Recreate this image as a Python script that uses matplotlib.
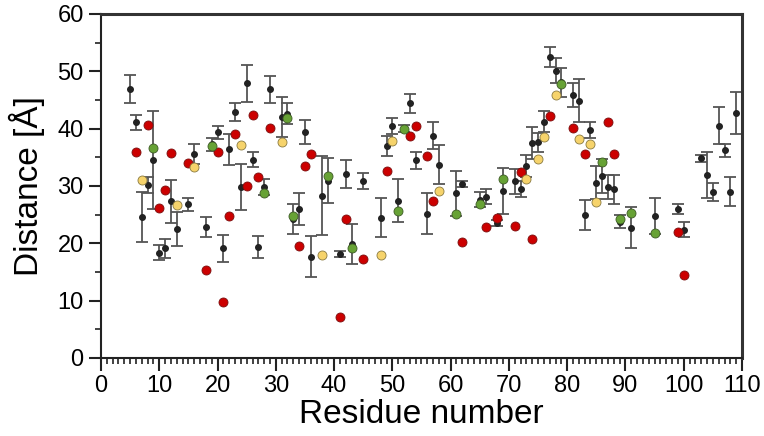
import matplotlib.pyplot as plt
from matplotlib.ticker import MultipleLocator

plt.rcParams["font.family"] = ["Liberation Sans", "DejaVu Sans"]

# black points with error bars
res_black = [5, 6, 7, 8, 9, 10, 11, 12, 13, 15, 16, 18, 19, 20, 21, 22, 23, 24, 25, 26,
             27, 28, 29, 31, 32, 33, 34, 35, 36, 38, 39, 41, 42, 43, 45, 48, 49, 50, 51, 52,
             53, 54, 56, 57, 58, 61, 62, 65, 66, 68, 69, 71, 72, 73, 74, 75, 76, 77, 78, 79,
             81, 82, 83, 84, 85, 86, 87, 88, 89, 91, 95, 99, 100, 103, 104, 105, 106, 107, 108, 109]
dist_black = [46.9, 41.1, 24.6, 30.2, 34.5, 18.4, 19.1, 27.3, 22.5, 26.8, 35.6, 22.9, 37.25, 39.4, 19.1, 36.4, 42.9, 29.8, 47.9, 34.6,
              19.4, 29.8, 46.9, 42.0, 42.6, 24.2, 26.0, 39.4, 17.7, 28.3, 30.9, 18.1, 32.1, 19.9, 30.8, 24.5, 36.9, 40.5, 27.4, 40.1,
              44.4, 34.5, 25.2, 38.8, 33.7, 28.7, 30.3, 27.6, 28.1, 23.5, 29.2, 30.8, 29.5, 33.5, 37.5, 37.6, 41.2, 52.5, 50.1, 48.1,
              45.9, 44.9, 24.9, 39.7, 30.6, 31.7, 29.8, 29.4, 23.8, 22.7, 24.8, 26.0, 22.4, 34.8, 31.9, 29.0, 40.5, 36.2, 29.0, 42.7]
err_black = [2.5, 1.3, 4.4, 1.45, 8.5, 1.25, 1.6, 3.7, 2.9, 1.15, 1.8, 1.75, 1.15, 1.15, 2.3, 2.7, 1.5, 4.0, 3.25, 1.25,
             1.9, 1.4, 2.35, 3.5, 1.85, 2.65, 2.8, 2.1, 3.65, 6.9, 3.9, 0.5, 2.4, 3.55, 1.4, 3.45, 1.75, 1.4, 3.75, 0.6,
             1.6, 1.45, 3.65, 2.3, 3.4, 4.0, 0.5, 1.3, 1.3, 0.5, 4.0, 2.15, 1.4, 1.85, 2.75, 1.6, 1.8, 1.8, 2.2, 2.5,
             2.1, 3.75, 2.6, 1.4, 2.85, 2.95, 2.05, 2.5, 1.15, 3.55, 3.1, 0.9, 1.25, 0.55, 4.05, 1.55, 3.2, 1.2, 2.5, 3.65]

res_red = [6, 8, 10, 11, 12, 15, 18, 20, 21, 22, 23, 25, 26, 27, 29, 34, 35, 36, 41, 42,
           45, 49, 53, 54, 56, 57, 62, 66, 68, 71, 72, 74, 77, 81, 83, 87, 88, 99, 100]
dist_red = [36.0, 40.6, 26.2, 29.3, 35.7, 34.0, 15.3, 35.9, 9.7, 24.7, 39.1, 30.0, 42.4, 31.5, 40.1, 19.6, 33.5, 35.6, 7.2, 24.3,
            17.3, 32.6, 38.7, 40.5, 35.3, 27.3, 20.3, 22.8, 24.4, 23.0, 32.4, 20.8, 42.2, 40.2, 35.5, 41.1, 35.6, 22.0, 14.4]

res_yellow = [7, 13, 16, 24, 31, 38, 48, 50, 58, 73, 75, 76, 78, 82, 84, 85]
dist_yellow = [31.0, 26.6, 33.3, 37.2, 37.7, 18.0, 17.9, 37.8, 29.2, 31.2, 34.7, 38.5, 45.9, 38.2, 37.4, 27.2]

res_green = [9, 19, 28, 32, 33, 39, 43, 51, 52, 61, 65, 69, 79, 86, 89, 91, 95]
dist_green = [36.6, 37.0, 28.7, 41.8, 24.8, 31.7, 19.1, 25.7, 40.0, 25.2, 26.9, 31.3, 47.8, 34.2, 24.2, 25.3, 21.8]

fig = plt.figure(figsize=(7.64, 4.36), dpi=100)
ax = fig.add_axes([0.1322, 0.1789, 0.8390, 0.7890])

ax.errorbar(res_black, dist_black, yerr=err_black, fmt="o", color="#222222", ms=4,
            ecolor="#555555", elinewidth=1.3, capsize=4, capthick=1.3, zorder=2)
ax.plot(res_red, dist_red, "o", ms=6.5, mfc="#cc0000", mec="#7a1010", mew=0.6, zorder=3)
ax.plot(res_yellow, dist_yellow, "o", ms=6.5, mfc="#f6d36b", mec="#8a7a40", mew=0.6, zorder=3)
ax.plot(res_green, dist_green, "o", ms=6.5, mfc="#67a235", mec="#3d5a25", mew=0.6, zorder=3)

ax.set_xlim(0, 110)
ax.set_ylim(0, 60)
ax.xaxis.set_major_locator(MultipleLocator(10))
ax.xaxis.set_minor_locator(MultipleLocator(1))
ax.yaxis.set_major_locator(MultipleLocator(10))
ax.yaxis.set_minor_locator(MultipleLocator(5))
ax.tick_params(which="major", direction="out", length=9, width=1.5, labelsize=17, color="#222222")
ax.tick_params(which="minor", direction="out", length=4.5, width=1.2, color="#222222")

for side in ["left", "bottom"]:
    ax.spines[side].set_linewidth(1.5)
    ax.spines[side].set_color("#222222")
for side in ["top", "right"]:
    ax.spines[side].set_linewidth(2.2)
    ax.spines[side].set_color("#333333")

ax.set_xlabel("Residue number", fontsize=24, labelpad=1)
ax.set_ylabel("Distance [Å]", fontsize=24, labelpad=9)

fig.savefig("out.png", dpi=100)
